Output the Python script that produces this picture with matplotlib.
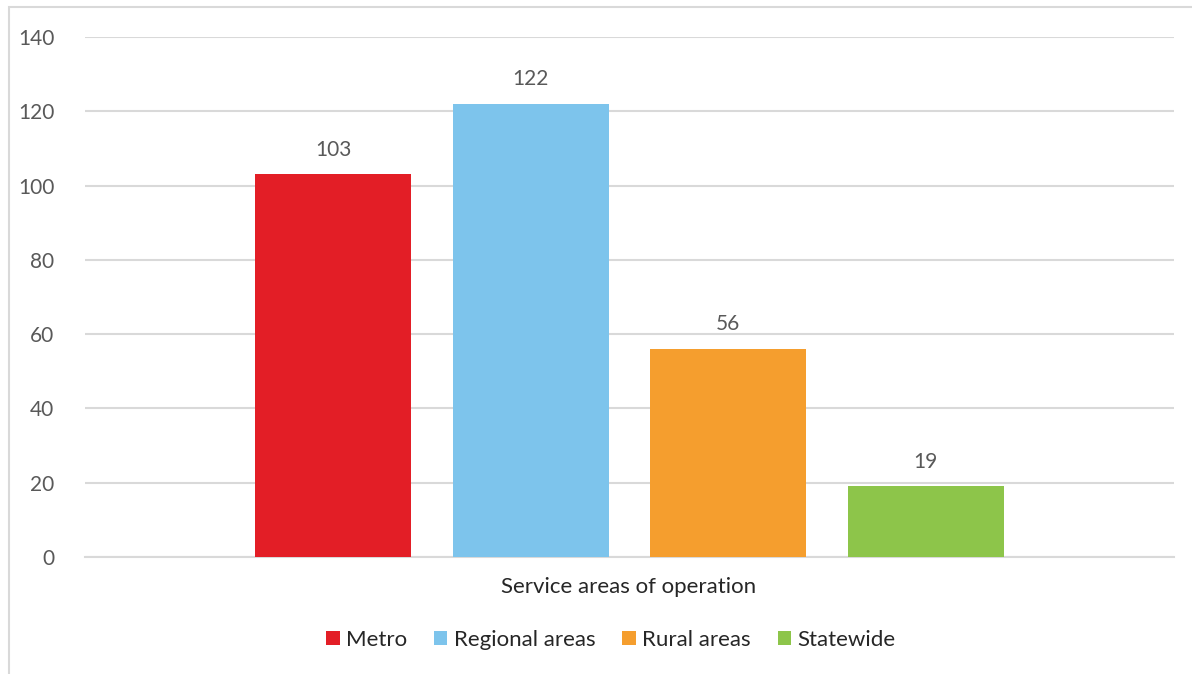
import numpy as np
import matplotlib.pyplot as plt
from matplotlib.patches import Rectangle

plt.rcParams['font.family'] = ['Lato', 'DejaVu Sans']

categories = ["Metro", "Regional areas", "Rural areas", "Statewide"]
values = [103, 122, 56, 19]
colors = ["#E31E26", "#7DC4EC", "#F59E2E", "#8DC54A"]
y_ticks = [0, 20, 40, 60, 80, 100, 120, 140]

W, H = 1192, 674
fig = plt.figure(figsize=(W / 100, H / 100), dpi=100)
ax = fig.add_axes([85 / W, 1 - 557 / H, (1174 - 85) / W, (557 - 37) / H])

bar_w = 156 / 1089
step = 197.5 / 1089
offsets = (np.arange(len(values)) - (len(values) - 1) / 2) * step

for off, v, c, name in zip(offsets, values, colors, categories):
    ax.bar(off, v, width=bar_w, color=c, label=name, zorder=3)
    ax.text(off, v + 4, str(v), ha='center', va='bottom', fontsize=15, color='#595959')

ax.set_xlim(-0.5, 0.5)
ax.set_ylim(0, 140)
ax.set_yticks(y_ticks)
ax.set_xticks([])
ax.tick_params(axis='y', length=0, pad=22, labelsize=15, labelcolor='#595959')
for lbl in ax.get_yticklabels():
    lbl.set_horizontalalignment('right')

ax.grid(axis='y', color='#D9D9D9', linewidth=1.5, zorder=0)
for side in ['top', 'right', 'left']:
    ax.spines[side].set_visible(False)
ax.spines['bottom'].set_color('#D9D9D9')
ax.spines['bottom'].set_linewidth(1.5)

fig.text(629 / W, 1 - 587 / H, "Service areas of operation", ha='center', va='center',
         fontsize=16, color='#262626')

fig.legend(loc='center', bbox_to_anchor=(611 / W, 1 - 640 / H), ncol=4, frameon=False,
           fontsize=16, handlelength=0.6, handleheight=0.6, handletextpad=0.3,
           columnspacing=1.2, labelcolor='#262626')

# chart area outline
fig.patches.append(Rectangle((9 / W, -0.05), 1.1, 1 - 7 / H + 0.05, transform=fig.transFigure,
                             fill=False, edgecolor='#D9D9D9', linewidth=1.5))

fig.savefig("out.png", dpi=100, facecolor='white')
